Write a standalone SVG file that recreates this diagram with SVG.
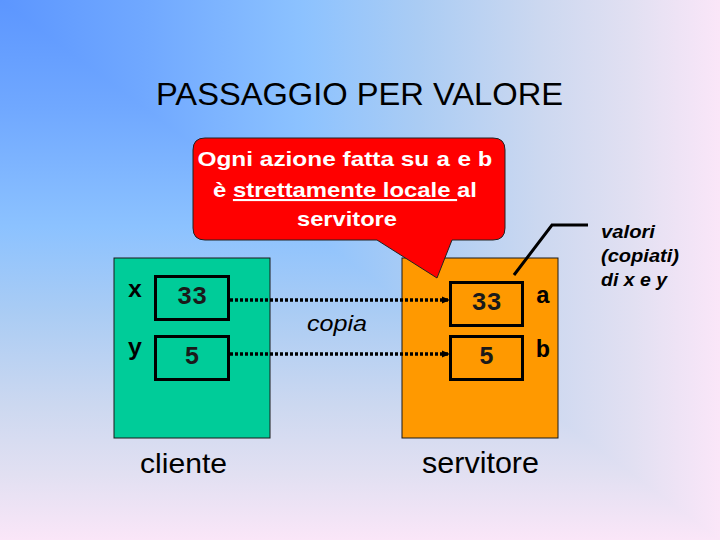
<svg xmlns="http://www.w3.org/2000/svg" width="720" height="540" viewBox="0 0 720 540">
  <defs>
    <linearGradient id="bgH" gradientUnits="userSpaceOnUse" x1="0" y1="0" x2="720" y2="0">
      <stop offset="0" stop-color="#5C96FF"/>
      <stop offset="0.2" stop-color="#70A8FF"/>
      <stop offset="0.42" stop-color="#8CC2FF"/>
      <stop offset="0.58" stop-color="#AACCF4"/>
      <stop offset="0.75" stop-color="#CCD8F0"/>
      <stop offset="0.88" stop-color="#E2E0F2"/>
      <stop offset="1" stop-color="#FAE6F8"/>
    </linearGradient>
    <linearGradient id="bgV" gradientUnits="userSpaceOnUse" x1="0" y1="0" x2="0" y2="540">
      <stop offset="0" stop-color="#5C96FF"/>
      <stop offset="0.2" stop-color="#70A8FF"/>
      <stop offset="0.42" stop-color="#8CC2FF"/>
      <stop offset="0.58" stop-color="#AACCF4"/>
      <stop offset="0.75" stop-color="#CCD8F0"/>
      <stop offset="0.88" stop-color="#E2E0F2"/>
      <stop offset="1" stop-color="#FAE6F8"/>
    </linearGradient>
    <marker id="arr" markerUnits="userSpaceOnUse" markerWidth="10" markerHeight="10" refX="9" refY="5" orient="auto">
      <path d="M1 1.5 L9 5 L1 8.5 Z" fill="#000"/>
    </marker>
  </defs>
  <style>
    .sans { font-family: "Liberation Sans", Arial, sans-serif; }
    .mono { font-family: "Liberation Mono", "Courier New", monospace; font-weight: bold; }
    .box { stroke: #1a1a1a; stroke-width: 1; }
    .cell { fill: none; stroke: #000; stroke-width: 3; }
    .val { font-family: "Liberation Mono", "Courier New", monospace; font-weight: bold; font-size: 25px; text-anchor: middle; fill: #1a1a1a; }
    .lbl { font-family: "Liberation Mono", "Courier New", monospace; font-weight: bold; font-size: 24px; text-anchor: middle; fill: #000; }
    .dots { fill: none; stroke: #000; stroke-width: 3.5; stroke-dasharray: 3 2; }
  </style>

  <!-- background (rectangular gradient from top-left corner) -->
  <rect x="0" y="0" width="720" height="540" fill="url(#bgH)"/>
  <path d="M0 0 L720 540 L0 540 Z" fill="url(#bgV)"/>

  <text id="title" class="sans" x="359.5" y="105" font-size="32" text-anchor="middle" textLength="407" lengthAdjust="spacingAndGlyphs" fill="#000">PASSAGGIO PER VALORE</text>

  <g id="cliente">
    <rect class="box" x="114" y="258" width="156" height="180" fill="#00CC99"/>
    <rect class="cell" x="155.5" y="276.5" width="73" height="43"/>
    <rect class="cell" x="155.5" y="336.5" width="73" height="43"/>
    <text class="lbl" x="135" y="297">x</text>
    <text class="lbl" x="135" y="355">y</text>
    <text class="val" x="192" y="304">33</text>
    <text class="val" x="192" y="364">5</text>
    <text class="sans" x="183.5" y="473" font-size="28" text-anchor="middle" textLength="87" lengthAdjust="spacingAndGlyphs" fill="#000">cliente</text>
  </g>

  <g id="servitore">
    <rect class="box" x="402" y="258" width="156" height="180" fill="#FF9900"/>
    <rect class="cell" x="450.5" y="282.5" width="72" height="43"/>
    <rect class="cell" x="450.5" y="336.5" width="72" height="43"/>
    <text class="val" x="486.5" y="310">33</text>
    <text class="val" x="486.5" y="364">5</text>
    <text class="lbl" x="543" y="303">a</text>
    <text class="lbl" x="543" y="357">b</text>
    <text class="sans" x="480.5" y="473" font-size="29" text-anchor="middle" textLength="117" lengthAdjust="spacingAndGlyphs" fill="#000">servitore</text>
  </g>

  <g id="connectors">
    <line class="dots" x1="230" y1="300" x2="450" y2="300" marker-end="url(#arr)"/>
    <line class="dots" x1="230" y1="354" x2="450" y2="354" marker-end="url(#arr)"/>
    <text class="sans" x="337" y="331" font-size="22" font-style="italic" text-anchor="middle" textLength="60" lengthAdjust="spacingAndGlyphs" fill="#000">copia</text>
    <polyline points="514,275 552,225 588,225" fill="none" stroke="#000" stroke-width="3"/>
  </g>

  <g id="callout">
    <path d="M205 138 H493 Q505 138 505 150 V228 Q505 240 493 240 H452 L437 278 L377 240 H205 Q193 240 193 228 V150 Q193 138 205 138 Z" fill="#FF0000" stroke="#222" stroke-width="1"/>
    <g class="sans" font-size="21" font-weight="bold" fill="#FFFFFF" text-anchor="middle">
      <text x="345" y="166" textLength="295" lengthAdjust="spacingAndGlyphs">Ogni azione fatta su <tspan class="mono">a</tspan> e <tspan class="mono">b</tspan></text>
      <text x="345" y="197" textLength="264" lengthAdjust="spacingAndGlyphs">è <tspan text-decoration="underline">strettamente locale </tspan>al</text>
      <text x="347" y="226" textLength="100" lengthAdjust="spacingAndGlyphs">servitore</text>
    </g>
  </g>

  <g id="note" class="sans" font-size="18" font-weight="bold" font-style="italic" fill="#000">
    <text x="601" y="238" textLength="54" lengthAdjust="spacingAndGlyphs">valori</text>
    <text x="601" y="262" textLength="78" lengthAdjust="spacingAndGlyphs">(copiati)</text>
    <text x="601" y="286" textLength="66" lengthAdjust="spacingAndGlyphs">di x e y</text>
  </g>
</svg>
